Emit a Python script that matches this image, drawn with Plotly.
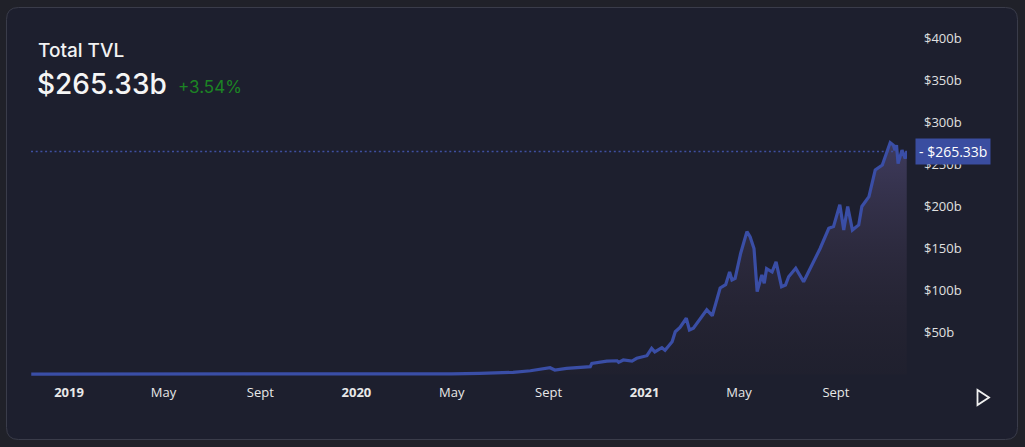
import plotly.graph_objects as go

# ---- data ----
dates = [
    "2018-11-14", "2019-01-01", "2019-04-01", "2019-07-01", "2019-10-01",
    "2020-01-01", "2020-03-15", "2020-05-01", "2020-06-06", "2020-07-18",
    "2020-08-09", "2020-09-03", "2020-09-09", "2020-09-24", "2020-10-24",
    "2020-10-26", "2020-11-14", "2020-11-27", "2020-11-29", "2020-12-05",
    "2020-12-16", "2020-12-22", "2021-01-04", "2021-01-10", "2021-01-14",
    "2021-01-23", "2021-01-27", "2021-02-05", "2021-02-09", "2021-02-15",
    "2021-02-23", "2021-02-27", "2021-03-04", "2021-03-13", "2021-03-21",
    "2021-03-28", "2021-04-07", "2021-04-14", "2021-04-19", "2021-04-22",
    "2021-04-26", "2021-05-03", "2021-05-11", "2021-05-15", "2021-05-20",
    "2021-05-24", "2021-05-30", "2021-06-02", "2021-06-05", "2021-06-12",
    "2021-06-17", "2021-06-24", "2021-06-29", "2021-07-03", "2021-07-12",
    "2021-07-22", "2021-08-04", "2021-08-12", "2021-08-23", "2021-08-29",
    "2021-09-06", "2021-09-11", "2021-09-16", "2021-09-22", "2021-09-30",
    "2021-10-04", "2021-10-13", "2021-10-17", "2021-10-21", "2021-10-30",
    "2021-11-03", "2021-11-09", "2021-11-13", "2021-11-15", "2021-11-17",
    "2021-11-19", "2021-11-24", "2021-11-28", "2021-11-30",
]
tvl_b = [
    0.5, 0.5, 0.6, 0.7, 0.6,
    0.7, 0.8, 0.9, 1.5, 2.6,
    4.5, 8.1, 5.4, 7.4, 9.3,
    13.3, 16.0, 16.4, 14.5, 17.3,
    16.0, 19.3, 22.4, 31.2, 27.0,
    32.0, 29.0, 39.0, 51.0, 56.0,
    67.0, 53.0, 55.0, 67.0, 77.0,
    70.0, 103.0, 107.0, 122.0, 112.5,
    114.5, 144.0, 170.0, 164.0, 150.0,
    98.6, 118.5, 108.6, 126.0, 122.0,
    134.0, 104.5, 106.5, 116.4, 126.4,
    110.5, 136.0, 150.0, 174.0, 176.0,
    202.0, 172.0, 200.0, 172.0, 178.0,
    200.0, 211.7, 229.5, 243.5, 249.4,
    259.0, 276.0, 273.0, 267.0, 273.0,
    251.0, 267.0, 257.0, 265.33,
]
current_value = 265.33
change_pct = 3.54

x_tick_vals = ["2019-01-01", "2019-05-01", "2019-09-01", "2020-01-01", "2020-05-01",
               "2020-09-01", "2021-01-01", "2021-05-01", "2021-09-01"]
x_tick_text = ["<b>2019</b>", "May", "Sept", "<b>2020</b>", "May",
               "Sept", "<b>2021</b>", "May", "Sept"]
y_tick_vals = [50, 100, 150, 200, 250, 300, 350, 400]
y_tick_text = ["$%db" % v for v in y_tick_vals]

# ---- figure geometry ----
W, H = 1025, 447
BG = "#202129"
def px(x):
    return x / W
def py(y):
    return 1 - y / H

LINE = "#3a4ea6"
fig = go.Figure()
fig.add_trace(go.Scatter(
    x=dates, y=tvl_b, mode="lines",
    line=dict(color=LINE, width=3.2),
    fill="tozeroy",
    fillgradient=dict(type="vertical",
                      colorscale=[[0, "rgba(45,38,48,0.15)"], [1, "rgba(66,62,98,0.9)"]]),
    hoverinfo="skip", showlegend=False,
))

# card background
r = 12
x0, x1, y0, y1 = 6.5, 1017.5, 7.5, 439.5
path = (f"M {px(x0+r)},{py(y0)} L {px(x1-r)},{py(y0)} "
        f"Q {px(x1)},{py(y0)} {px(x1)},{py(y0+r)} L {px(x1)},{py(y1-r)} "
        f"Q {px(x1)},{py(y1)} {px(x1-r)},{py(y1)} L {px(x0+r)},{py(y1)} "
        f"Q {px(x0)},{py(y1)} {px(x0)},{py(y1-r)} L {px(x0)},{py(y0+r)} "
        f"Q {px(x0)},{py(y0)} {px(x0+r)},{py(y0)} Z")
shapes = [
    dict(type="path", path=path, xref="paper", yref="paper",
         fillcolor="#1d1f2e", line=dict(color="#3a3c4a", width=1), layer="below"),
    # dotted current-value line
    dict(type="line", xref="paper", yref="y", x0=px(31), x1=px(907),
         y0=current_value, y1=current_value,
         line=dict(color="#3f4fa0", width=1.5, dash="2px,2.7px"), layer="above"),
    # play triangle
    dict(type="path", xref="paper", yref="paper",
         path=f"M {px(977.5)},{py(390)} L {px(977.5)},{py(405)} L {px(989)},{py(397.5)} Z",
         line=dict(color="#f0f0f0", width=1.8), fillcolor="rgba(0,0,0,0)"),
]

annotations = [
    dict(text="Total TVL", x=px(36), y=py(50), xref="paper", yref="paper",
         xanchor="left", yanchor="middle", showarrow=False,
         font=dict(family="Inter", size=19, color="#f2f2f2", weight=500)),
    dict(text="$%.2fb" % current_value, x=px(35), y=py(84), xref="paper", yref="paper",
         xanchor="left", yanchor="middle", showarrow=False,
         font=dict(family="Inter", size=28, color="#f5f5f5", weight=500)),
    dict(text="+%.2f%%" % change_pct, x=px(176), y=py(87), xref="paper", yref="paper",
         xanchor="left", yanchor="middle", showarrow=False,
         font=dict(family="Inter", size=17, color="#1c8424")),
    dict(text="- $%.2fb" % current_value, x=px(915), y=current_value, xref="paper", yref="y",
         xanchor="left", yanchor="middle", showarrow=False,
         bgcolor="#3a4da0", borderpad=3,
         font=dict(family="Open Sans", size=14, color="#ffffff")),
]

fig.update_layout(
    width=W, height=H,
    margin=dict(l=0, r=0, t=0, b=0),
    paper_bgcolor=BG,
    plot_bgcolor="rgba(0,0,0,0)",
    shapes=shapes, annotations=annotations,
    xaxis=dict(domain=[px(31), px(907)],
               range=["2018-11-13 16:00", "2021-11-30 08:00"],
               showgrid=False, zeroline=False, showline=False,
               tickmode="array", tickvals=x_tick_vals, ticktext=x_tick_text,
               tickfont=dict(family="Open Sans", size=13, color="#e8e8e8"),
               ticks="", ticklabelstandoff=3, fixedrange=True),
    yaxis=dict(domain=[py(380), py(14)], range=[-6.5, 429],
               side="right", showgrid=False, zeroline=False, showline=False,
               tickmode="array", tickvals=y_tick_vals, ticktext=y_tick_text,
               tickfont=dict(family="Open Sans", size=13, color="#e0e0e0"),
               ticks="", ticklabelstandoff=16, fixedrange=True),
)

fig.write_html(
    "out.html",
    config={"displayModeBar": False},
    post_script="document.body.style.margin='0';document.body.style.background='%s';" % BG,
)
